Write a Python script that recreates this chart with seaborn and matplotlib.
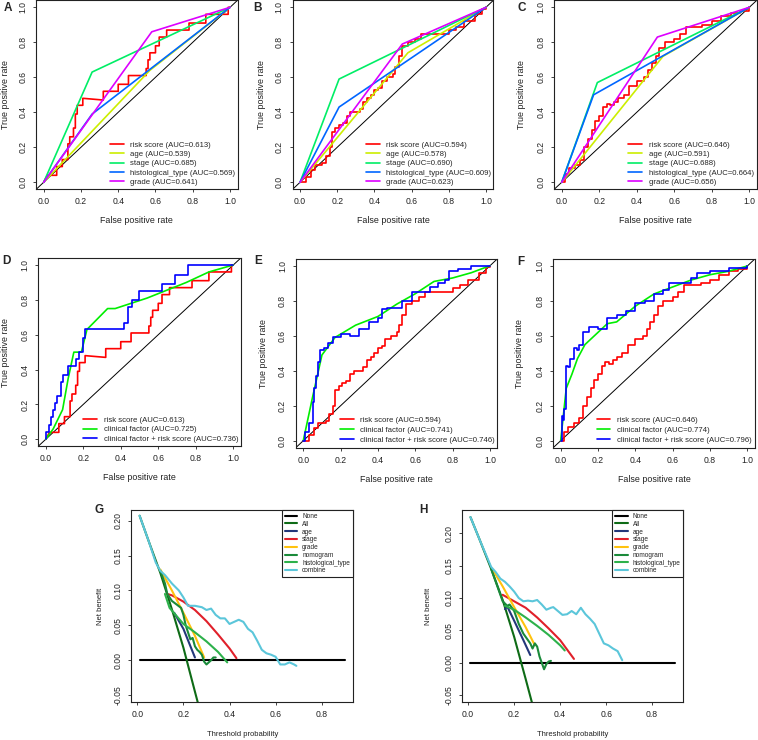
import matplotlib
matplotlib.use("Agg")
import matplotlib.pyplot as plt
import seaborn as sns

# ---------------- ROC data ----------------
# A / D: risk score (TCGA set 1)
risk1_fpr = [0, 0.02, 0.07, 0.07, 0.10, 0.10, 0.13, 0.13, 0.14, 0.14, 0.16, 0.16, 0.17, 0.17, 0.18, 0.18,
             0.21, 0.21, 0.32, 0.32, 0.40, 0.40, 0.455, 0.455, 0.55, 0.55, 0.56, 0.56, 0.57, 0.57, 0.60, 0.60,
             0.62, 0.62, 0.66, 0.66, 0.78, 0.78, 0.87, 0.87, 0.99, 0.99, 1.0]
risk1_tpr = [0, 0.04, 0.04, 0.09, 0.09, 0.13, 0.13, 0.22, 0.22, 0.26, 0.26, 0.31, 0.31, 0.39, 0.39, 0.44,
             0.44, 0.48, 0.47, 0.52, 0.52, 0.56, 0.56, 0.61, 0.61, 0.65, 0.65, 0.70, 0.70, 0.74, 0.74, 0.78,
             0.78, 0.83, 0.83, 0.87, 0.87, 0.91, 0.91, 0.96, 0.96, 1.0, 1.0]
age_A_fpr, age_A_tpr = [0, 0.57, 1], [0, 0.64, 1]
stage_A_fpr, stage_A_tpr = [0, 0.26, 1], [0, 0.63, 1]
hist_A_fpr, hist_A_tpr = [0, 0.26, 1], [0, 0.39, 1]
grade_A_fpr, grade_A_tpr = [0, 0.58, 1], [0, 0.86, 1]

# B / E: risk score (set 2)
risk2_fpr = [0, 0.03, 0.06, 0.08, 0.12, 0.14, 0.16, 0.17, 0.19, 0.21, 0.23, 0.25, 0.27, 0.30, 0.32, 0.34,
             0.36, 0.38, 0.40, 0.42, 0.44, 0.47, 0.50, 0.51, 0.53, 0.55, 0.58, 0.62, 0.65, 0.70, 0.76, 0.80,
             0.84, 0.88, 0.94, 0.98, 1.0]
risk2_tpr = [0, 0.03, 0.07, 0.10, 0.11, 0.15, 0.20, 0.29, 0.31, 0.33, 0.34, 0.38, 0.40, 0.40, 0.42, 0.46,
             0.48, 0.50, 0.53, 0.54, 0.58, 0.60, 0.62, 0.66, 0.72, 0.78, 0.80, 0.82, 0.85, 0.85, 0.85, 0.87,
             0.89, 0.92, 0.96, 0.99, 1.0]
age_B_fpr, age_B_tpr = [0, 0.58, 1], [0, 0.74, 1]
stage_B_fpr, stage_B_tpr = [0, 0.21, 1], [0, 0.59, 1]
hist_B_fpr, hist_B_tpr = [0, 0.21, 1], [0, 0.43, 1]
grade_B_fpr, grade_B_tpr = [0, 0.55, 1], [0, 0.79, 1]

# C / F: risk score (set 3)
risk3_fpr = [0, 0.02, 0.04, 0.07, 0.10, 0.12, 0.14, 0.16, 0.18, 0.20, 0.22, 0.24, 0.26, 0.28, 0.30, 0.33,
             0.36, 0.40, 0.44, 0.46, 0.48, 0.50, 0.52, 0.55, 0.60, 0.63, 0.66, 0.70, 0.75, 0.80, 0.85, 0.90,
             0.95, 1.0]
risk3_tpr = [0, 0.05, 0.08, 0.10, 0.13, 0.20, 0.25, 0.30, 0.35, 0.38, 0.43, 0.45, 0.44, 0.46, 0.48, 0.50,
             0.55, 0.58, 0.60, 0.64, 0.68, 0.72, 0.77, 0.80, 0.82, 0.85, 0.89, 0.89, 0.90, 0.92, 0.95, 0.97,
             0.98, 1.0]
age_C_fpr, age_C_tpr = [0, 0.54, 1], [0, 0.72, 1]
stage_C_fpr, stage_C_tpr = [0, 0.19, 1], [0, 0.57, 1]
hist_C_fpr, hist_C_tpr = [0, 0.17, 1], [0, 0.50, 1]
grade_C_fpr, grade_C_tpr = [0, 0.51, 1], [0, 0.83, 1]

# D: clinical factor / combined
clin_D_fpr = [0, 0.04, 0.09, 0.12, 0.15, 0.19, 0.22, 0.33, 0.37, 0.54, 0.75, 0.87, 1.0]
clin_D_tpr = [0, 0.06, 0.17, 0.35, 0.50, 0.50, 0.63, 0.75, 0.75, 0.81, 0.90, 0.96, 1.0]
comb_D_fpr = [0, 0, 0.02, 0.02, 0.03, 0.03, 0.04, 0.04, 0.05, 0.05, 0.06, 0.06, 0.08, 0.08, 0.09, 0.09,
              0.12, 0.12, 0.16, 0.16, 0.18, 0.18, 0.20, 0.20, 0.21, 0.21, 0.42, 0.42, 0.44, 0.44, 0.46,
              0.46, 0.50, 0.50, 0.62, 0.62, 0.69, 0.69, 0.76, 0.76, 1.0]
comb_D_tpr = [0, 0.04, 0.04, 0.08, 0.08, 0.13, 0.13, 0.17, 0.17, 0.21, 0.21, 0.25, 0.25, 0.33, 0.33, 0.37,
              0.37, 0.42, 0.42, 0.46, 0.46, 0.50, 0.50, 0.58, 0.58, 0.63, 0.63, 0.67, 0.67, 0.76, 0.76,
              0.80, 0.80, 0.85, 0.85, 0.89, 0.89, 0.94, 0.94, 1.0, 1.0]

# E
clin_E_fpr = [0, 0.02, 0.05, 0.10, 0.17, 0.28, 0.40, 0.50, 0.60, 0.70, 0.80, 0.90, 1.0]
clin_E_tpr = [0, 0.10, 0.25, 0.49, 0.59, 0.66, 0.71, 0.78, 0.84, 0.91, 0.93, 0.96, 1.0]
comb_E_fpr = [0, 0.01, 0.03, 0.05, 0.06, 0.07, 0.08, 0.09, 0.11, 0.13, 0.16, 0.20, 0.25, 0.30, 0.35, 0.40,
              0.42, 0.45, 0.50, 0.53, 0.58, 0.62, 0.68, 0.72, 0.76, 0.78, 0.83, 0.90, 1.0]
comb_E_tpr = [0, 0.05, 0.10, 0.22, 0.30, 0.37, 0.45, 0.52, 0.53, 0.56, 0.59, 0.61, 0.60, 0.64, 0.68, 0.70,
              0.75, 0.76, 0.76, 0.80, 0.85, 0.85, 0.88, 0.90, 0.92, 0.97, 0.98, 1.0, 1.0]

# F
clin_F_fpr = [0, 0.01, 0.02, 0.03, 0.06, 0.09, 0.13, 0.20, 0.25, 0.30, 0.40, 0.50, 0.60, 0.70, 0.80, 0.90, 1.0]
clin_F_tpr = [0, 0.10, 0.20, 0.30, 0.38, 0.47, 0.55, 0.62, 0.67, 0.68, 0.77, 0.84, 0.88, 0.92, 0.95, 0.97, 1.0]
comb_F_fpr = [0, 0.005, 0.015, 0.02, 0.03, 0.04, 0.05, 0.07, 0.09, 0.10, 0.12, 0.15, 0.20, 0.25, 0.30, 0.35,
              0.40, 0.45, 0.50, 0.55, 0.58, 0.65, 0.70, 0.73, 0.80, 0.90, 1.0]
comb_F_tpr = [0, 0.14, 0.12, 0.18, 0.43, 0.42, 0.47, 0.53, 0.52, 0.55, 0.62, 0.65, 0.64, 0.70, 0.72, 0.74,
              0.79, 0.80, 0.84, 0.86, 0.90, 0.90, 0.93, 0.96, 0.97, 0.99, 1.0]

# ---------------- DCA data ----------------
none_t, none_nb = [0.01, 0.90], [0.0, 0.0]

all_G_t = [0.01, 0.05, 0.10, 0.15, 0.20, 0.25, 0.27]
all_G_nb = [0.207, 0.170, 0.125, 0.073, 0.018, -0.045, -0.07]
age_G_t = [0.16, 0.20, 0.25]
age_G_nb = [0.068, 0.045, 0.004]
stage_G_t = [0.13, 0.15, 0.20, 0.25, 0.30, 0.35, 0.40, 0.43]
stage_G_nb = [0.095, 0.093, 0.084, 0.072, 0.056, 0.037, 0.017, 0.003]
grade_G_t = [0.10, 0.15, 0.20, 0.25, 0.29]
grade_G_nb = [0.130, 0.100, 0.068, 0.035, 0.004]
nomo_G_t = [0.10, 0.12, 0.13, 0.15, 0.17, 0.19, 0.20, 0.21, 0.22, 0.23, 0.24, 0.25, 0.26, 0.27, 0.28,
            0.29, 0.30, 0.31, 0.32, 0.33, 0.34]
nomo_G_nb = [0.128, 0.110, 0.095, 0.085, 0.080, 0.075, 0.065, 0.050, 0.040, 0.030, 0.032, 0.020, 0.015,
             0.012, 0.008, -0.002, -0.006, -0.003, 0.0, 0.004, 0.004]
hist_G_t = [0.12, 0.14, 0.20, 0.25, 0.30, 0.35, 0.39]
hist_G_nb = [0.095, 0.075, 0.052, 0.040, 0.027, 0.012, -0.003]
comb_G_t = [0.01, 0.05, 0.08, 0.10, 0.12, 0.15, 0.18, 0.20, 0.22, 0.25, 0.28, 0.30, 0.32, 0.34, 0.36,
            0.38, 0.40, 0.42, 0.44, 0.46, 0.48, 0.50, 0.52, 0.54, 0.56, 0.58, 0.60, 0.62, 0.64, 0.66,
            0.68, 0.69]
comb_G_nb = [0.207, 0.170, 0.140, 0.128, 0.122, 0.110, 0.100, 0.090, 0.078, 0.078, 0.076, 0.072, 0.074,
             0.065, 0.060, 0.060, 0.052, 0.055, 0.058, 0.055, 0.045, 0.040, 0.028, 0.015, 0.010, 0.008,
             0.005, -0.006, -0.006, -0.003, -0.006, -0.008]

all_H_t = [0.01, 0.05, 0.10, 0.15, 0.20, 0.25, 0.28]
all_H_nb = [0.225, 0.190, 0.145, 0.097, 0.040, -0.025, -0.065]
age_H_t = [0.16, 0.17, 0.20, 0.24, 0.27]
age_H_nb = [0.083, 0.087, 0.065, 0.035, 0.012]
stage_H_t = [0.15, 0.20, 0.25, 0.30, 0.35, 0.40, 0.46]
stage_H_nb = [0.105, 0.095, 0.085, 0.070, 0.053, 0.035, 0.006]
grade_H_t = [0.11, 0.15, 0.20, 0.25, 0.29]
grade_H_nb = [0.142, 0.118, 0.086, 0.055, 0.027]
nomo_H_t = [0.10, 0.13, 0.15, 0.17, 0.18, 0.20, 0.22, 0.24, 0.26, 0.27, 0.28, 0.29, 0.30, 0.31, 0.32,
            0.33, 0.34, 0.35, 0.36]
nomo_H_nb = [0.145, 0.115, 0.095, 0.088, 0.090, 0.080, 0.060, 0.045, 0.035, 0.030, 0.022, 0.030, 0.025,
             0.010, 0.0, -0.010, -0.002, 0.002, 0.003]
hist_H_t = [0.16, 0.20, 0.25, 0.30, 0.35, 0.40, 0.42]
hist_H_nb = [0.088, 0.082, 0.070, 0.057, 0.043, 0.027, 0.019]
comb_H_t = [0.01, 0.05, 0.10, 0.12, 0.14, 0.16, 0.18, 0.20, 0.22, 0.24, 0.26, 0.28, 0.30, 0.32, 0.34,
            0.36, 0.37, 0.39, 0.41, 0.43, 0.45, 0.47, 0.49, 0.51, 0.53, 0.55, 0.57, 0.59, 0.61, 0.63,
            0.65, 0.67]
comb_H_nb = [0.225, 0.190, 0.148, 0.140, 0.130, 0.125, 0.118, 0.110, 0.100, 0.095, 0.096, 0.095, 0.097,
             0.090, 0.082, 0.085, 0.086, 0.080, 0.074, 0.075, 0.080, 0.075, 0.085, 0.075, 0.068, 0.060,
             0.045, 0.030, 0.027, 0.022, 0.018, 0.004]

roc_ticks = [0.0, 0.2, 0.4, 0.6, 0.8, 1.0]
dca_xticks = [0.0, 0.2, 0.4, 0.6, 0.8]
dca_yticks = [-0.05, 0.0, 0.05, 0.10, 0.15, 0.20]
dca_ylabels = ["-0.05", "0.00", "0.05", "0.10", "0.15", "0.20"]

# ---------------- figure ----------------
sns.set_theme(style="ticks")
plt.rcParams['font.family'] = ['Liberation Sans', 'DejaVu Sans']
plt.rcParams['axes.linewidth'] = 0.8

W, H = 758, 740
fig = plt.figure(figsize=(W / 100, H / 100), dpi=100)

RAIN = ["#FF0000", "#CCEE00", "#00EE66", "#0066FF", "#DD00FF"]
DCA_COL = {"None": "black", "All": "#0E6B16", "age": "#23377A", "stage": "#E0202A",
           "grade": "#FFC20E", "nomogram": "#1A8A3A", "histological_type": "#2DB14B",
           "combine": "#5BC6DA"}


def add_ax(box):
    left, top, right, bottom = box
    ax = fig.add_axes([left / W, 1 - bottom / H, (right - left) / W, (bottom - top) / H])
    return ax


def style(ax, box, xlim, ylim, xticks, yticks, ylabels, xlabel, ylabel, xlab_y, ylab_x, lab_fs):
    left, top, right, bottom = box
    w, h = right - left, bottom - top
    ax.set_xlim(*xlim)
    ax.set_ylim(*ylim)
    ax.set_xticks(xticks)
    ax.set_xticklabels([f"{v:.1f}" for v in xticks])
    ax.set_yticks(yticks)
    ax.set_yticklabels(ylabels, rotation=90, va="center")
    ax.tick_params(direction="out", length=2.4, width=0.6, labelsize=6.2, colors="#222222")
    ax.tick_params(axis="x", pad=3.5)
    ax.tick_params(axis="y", pad=4.0)
    for s in ax.spines.values():
        s.set_visible(True)
        s.set_color("#222222")
        s.set_linewidth(0.8)
    ax.set_xlabel(xlabel, fontsize=lab_fs, color="#222222")
    ax.set_ylabel(ylabel, fontsize=lab_fs, color="#222222")
    ax.xaxis.set_label_coords(0.5, -(xlab_y - bottom) / h)
    ax.xaxis.label.set_va("center")
    ax.yaxis.set_label_coords(-(left - ylab_x) / w, 0.5)
    ax.yaxis.label.set_va("center")


def line(ax, x, y, color, label, lw=1.2, steps=False):
    kw = {"drawstyle": "steps-post"} if steps else {}
    sns.lineplot(x=x, y=y, ax=ax, color=color, linewidth=lw, sort=False, estimator=None,
                 label=label, legend=False, **kw)


def roc_panel(box, curves, leg_xy, letter, letter_xy, xlab_y, ylab_x, spacing):
    ax = add_ax(box)
    ax.axline((0, 0), slope=1, color="black", lw=0.7)
    for fpr, tpr, col, lab, st in curves:
        line(ax, fpr, tpr, col, lab, steps=st)
    style(ax, box, (-0.04, 1.04), (-0.04, 1.04), roc_ticks, roc_ticks,
          [f"{v:.1f}" for v in roc_ticks], "False positive rate", "True positive rate",
          xlab_y, ylab_x, 6.4)
    left, top, right, bottom = box
    w, h = right - left, bottom - top
    ax.legend(loc="upper left", bbox_to_anchor=((leg_xy[0] - left) / w, 1 - (leg_xy[1] - top) / h),
              frameon=False, fontsize=5.6, borderpad=0, borderaxespad=0, handlelength=1.75,
              handletextpad=0.85, labelspacing=spacing)
    fig.text(letter_xy[0] / W, 1 - letter_xy[1] / H, letter, fontsize=8.5, fontweight="bold",
             ha="center", va="center")
    return ax


def dca_panel(box, curves, ylim, letter, letter_xy, xlab_y, ylab_x):
    ax = add_ax(box)
    for t, nb, lab in curves:
        line(ax, t, nb, DCA_COL[lab], lab, lw=1.5)
    style(ax, box, (-0.0256, 0.9356), ylim, dca_xticks, dca_yticks, dca_ylabels,
          "Threshold probability", "Net benefit", xlab_y, ylab_x, 5.5)
    leg = ax.legend(loc="upper right", bbox_to_anchor=(1, 1), borderaxespad=0, fontsize=4.7,
                    frameon=True, fancybox=False, framealpha=1, edgecolor="#222222",
                    borderpad=0.45, handlelength=1.95, handletextpad=0.75, labelspacing=0.12)
    leg.get_frame().set_linewidth(0.8)
    fig.text(letter_xy[0] / W, 1 - letter_xy[1] / H, letter, fontsize=8.5, fontweight="bold",
             ha="center", va="center")
    return ax


roc_panel((36.2, 0.3, 237.5, 189.3),
          [(risk1_fpr, risk1_tpr, RAIN[0], "risk score (AUC=0.613)", False),
           (age_A_fpr, age_A_tpr, RAIN[1], "age (AUC=0.539)", False),
           (stage_A_fpr, stage_A_tpr, RAIN[2], "stage (AUC=0.685)", False),
           (hist_A_fpr, hist_A_tpr, RAIN[3], "histological_type (AUC=0.569)", False),
           (grade_A_fpr, grade_A_tpr, RAIN[4], "grade (AUC=0.641)", False)],
          (110, 141.2), "A", (7.5, 8), 221, 5, 0.24)
roc_panel((292.6, 0.3, 493.4, 189.3),
          [(risk2_fpr, risk2_tpr, RAIN[0], "risk score (AUC=0.594)", True),
           (age_B_fpr, age_B_tpr, RAIN[1], "age (AUC=0.578)", False),
           (stage_B_fpr, stage_B_tpr, RAIN[2], "stage (AUC=0.690)", False),
           (hist_B_fpr, hist_B_tpr, RAIN[3], "histological_type (AUC=0.609)", False),
           (grade_B_fpr, grade_B_tpr, RAIN[4], "grade (AUC=0.623)", False)],
          (366, 141.2), "B", (257.5, 8), 221, 262, 0.24)
roc_panel((554.2, 0.3, 756.8, 189.3),
          [(risk3_fpr, risk3_tpr, RAIN[0], "risk score (AUC=0.646)", True),
           (age_C_fpr, age_C_tpr, RAIN[1], "age (AUC=0.591)", False),
           (stage_C_fpr, stage_C_tpr, RAIN[2], "stage (AUC=0.688)", False),
           (hist_C_fpr, hist_C_tpr, RAIN[3], "histological_type (AUC=0.664)", False),
           (grade_C_fpr, grade_C_tpr, RAIN[4], "grade (AUC=0.656)", False)],
          (628.3, 141.2), "C", (521.5, 8), 221, 522, 0.24)

roc_panel((38.2, 258, 240.8, 446.3),
          [(risk1_fpr, risk1_tpr, "#FF0000", "risk score (AUC=0.613)", False),
           (clin_D_fpr, clin_D_tpr, "#00EE00", "clinical factor (AUC=0.725)", False),
           (comb_D_fpr, comb_D_tpr, "#0000FF", "clinical factor + risk score (AUC=0.736)", False)],
          (83.3, 416.3), "D", (6, 261), 478, 5, 0.28)
roc_panel((295.8, 258.7, 497.5, 447.7),
          [(risk2_fpr, risk2_tpr, "#FF0000", "risk score (AUC=0.594)", True),
           (clin_E_fpr, clin_E_tpr, "#00EE00", "clinical factor (AUC=0.741)", False),
           (comb_E_fpr, comb_E_tpr, "#0000FF", "clinical factor + risk score (AUC=0.746)", True)],
          (340, 416.6), "E", (258, 261), 479, 263, 0.3)
roc_panel((553.2, 259, 754.8, 447.7),
          [(risk3_fpr, risk3_tpr, "#FF0000", "risk score (AUC=0.646)", True),
           (clin_F_fpr, clin_F_tpr, "#00EE00", "clinical factor (AUC=0.774)", False),
           (comb_F_fpr, comb_F_tpr, "#0000FF", "clinical factor + risk score (AUC=0.796)", True)],
          (596.7, 416.6), "F", (521, 262), 479, 520, 0.3)

dca_panel((131.4, 510, 353, 702.3),
          [(none_t, none_nb, "None"), (all_G_t, all_G_nb, "All"), (age_G_t, age_G_nb, "age"),
           (stage_G_t, stage_G_nb, "stage"), (grade_G_t, grade_G_nb, "grade"),
           (nomo_G_t, nomo_G_nb, "nomogram"), (hist_G_t, hist_G_nb, "histological_type"),
           (comb_G_t, comb_G_nb, "combine")],
          (-0.0602, 0.2152), "G", (99.5, 510), 735, 100)
dca_panel((462.3, 510, 683.3, 702.3),
          [(none_t, none_nb, "None"), (all_H_t, all_H_nb, "All"), (age_H_t, age_H_nb, "age"),
           (stage_H_t, stage_H_nb, "stage"), (grade_H_t, grade_H_nb, "grade"),
           (nomo_H_t, nomo_H_nb, "nomogram"), (hist_H_t, hist_H_nb, "histological_type"),
           (comb_H_t, comb_H_nb, "combine")],
          (-0.061, 0.236), "H", (423, 510), 735, 429)

fig.savefig("out.png", dpi=100, facecolor="white")
